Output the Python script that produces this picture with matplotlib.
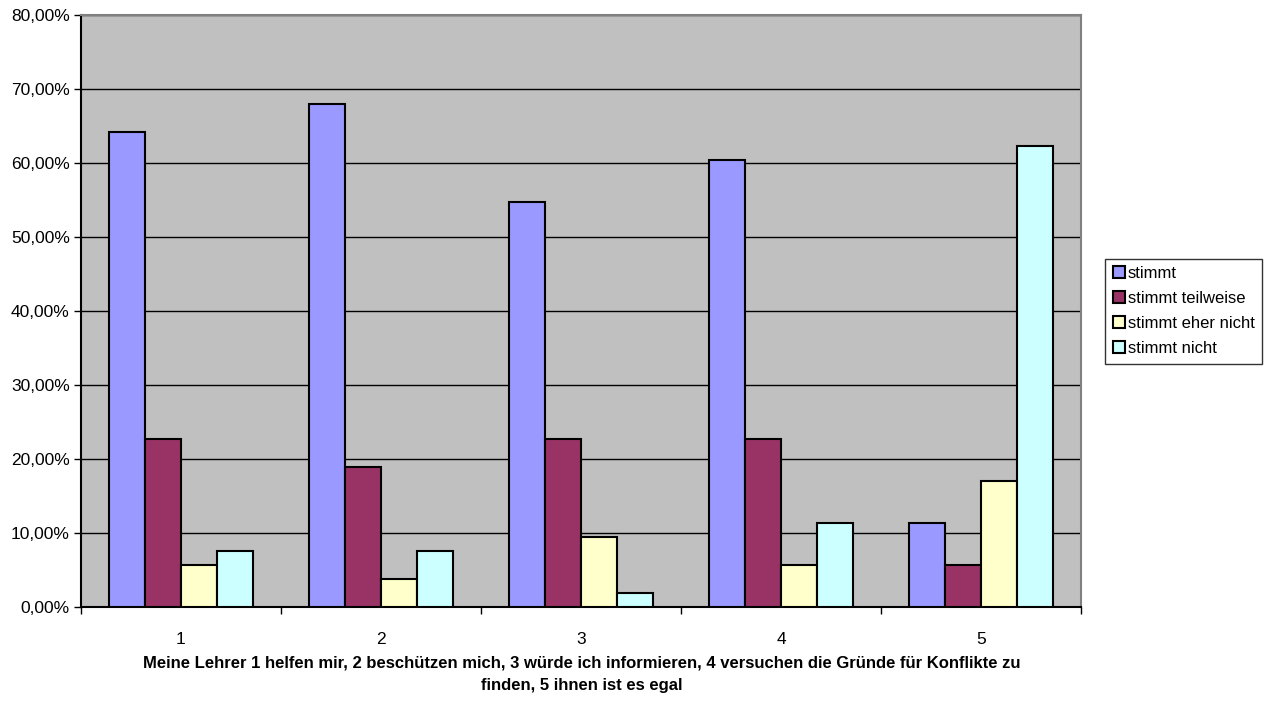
import numpy as np
import matplotlib.pyplot as plt
from matplotlib.ticker import FuncFormatter

plt.rcParams['font.family'] = ['Liberation Sans', 'DejaVu Sans']

# data (percent)
categories = ['1', '2', '3', '4', '5']
series_names = ['stimmt', 'stimmt teilweise', 'stimmt eher nicht', 'stimmt nicht']
stimmt = [64.15, 67.92, 54.72, 60.38, 11.32]
teilweise = [22.64, 18.87, 22.64, 22.64, 5.66]
eher_nicht = [5.66, 3.77, 9.43, 5.66, 16.98]
nicht = [7.55, 7.55, 1.89, 11.32, 62.26]
colors = ['#9999FF', '#993366', '#FFFFCC', '#CCFFFF']

fig = plt.figure(figsize=(12.75, 7.02), dpi=100)
ax = fig.add_axes([0.0635, 0.1353, 0.7845, 0.8433])
ax.set_facecolor('#C0C0C0')

x = np.arange(len(categories))
width = 0.18
offsets = [-1.5 * width, -0.5 * width, 0.5 * width, 1.5 * width]
for vals, off, col, name in zip([stimmt, teilweise, eher_nicht, nicht], offsets, colors, series_names):
    ax.bar(x + off, vals, width=width, color=col, edgecolor='black', linewidth=1.5, label=name, zorder=3)

ax.set_xlim(-0.5, 4.5)
ax.set_ylim(0, 80)
ax.set_yticks(np.arange(0, 81, 10))
ax.yaxis.set_major_formatter(FuncFormatter(lambda v, p: f'{v:.2f}'.replace('.', ',') + '%'))
ax.yaxis.grid(True, color='black', linewidth=1)
ax.set_axisbelow(True)

# x ticks between the groups, labels centred in the groups
ax.set_xticks(np.arange(-0.5, 4.6, 1))
ax.set_xticklabels([])
ax.set_xticks(x, minor=True)
ax.set_xticklabels(categories, minor=True)
ax.tick_params(axis='x', which='minor', length=0, pad=18, labelsize=12.5)
ax.tick_params(axis='x', which='major', length=5, width=1)
ax.tick_params(axis='y', length=5, width=1, labelsize=12.5, pad=3)

ax.spines['left'].set_color('black')
ax.spines['bottom'].set_color('black')
ax.spines['top'].set_color('#808080')
ax.spines['right'].set_color('#808080')
for s in ax.spines.values():
    s.set_linewidth(1.5)

fig.text(0.4565, 0.040,
         'Meine Lehrer 1 helfen mir, 2 beschützen mich, 3 würde ich informieren, 4 versuchen die Gründe für Konflikte zu\nfinden, 5 ihnen ist es egal',
         ha='center', va='center', fontsize=12, fontweight='bold', linespacing=1.65)

leg = ax.legend(loc='center left', bbox_to_anchor=(1.024, 0.5), frameon=True, fancybox=False,
                edgecolor='black', fontsize=12, handlelength=0.75, handleheight=0.75,
                handletextpad=0.15, labelspacing=0.6, borderpad=0.45, borderaxespad=0)
leg.get_frame().set_linewidth(1)

fig.savefig('out.png', dpi=100, facecolor='white')
